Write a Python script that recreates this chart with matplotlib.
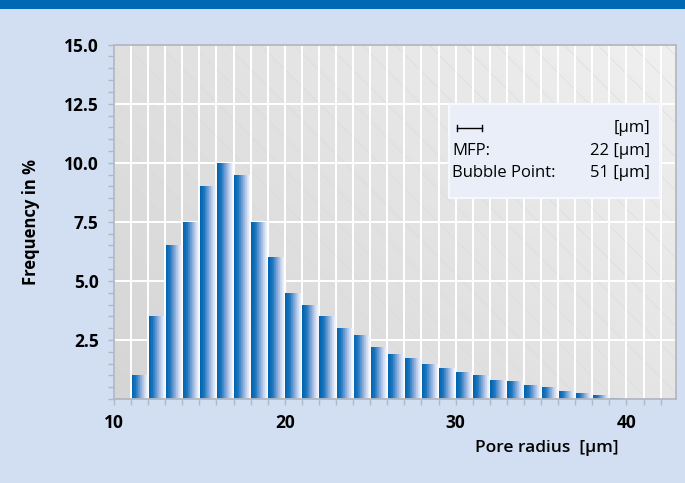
import numpy as np
import matplotlib
matplotlib.use("Agg")
import matplotlib.pyplot as plt
from matplotlib.colors import LinearSegmentedColormap
from matplotlib.patches import Rectangle
from matplotlib.lines import Line2D

plt.rcParams["font.family"] = ["Open Sans", "DejaVu Sans"]

# pore radius (left edge of each class, um) and frequency in %
radius = list(range(11, 40))
freq = [1.0, 3.5, 6.5, 7.5, 9.0, 10.0, 9.5, 7.5, 6.0, 4.5,
        4.0, 3.5, 3.0, 2.7, 2.2, 1.9, 1.75, 1.5, 1.3, 1.15,
        1.0, 0.8, 0.75, 0.6, 0.5, 0.35, 0.25, 0.15, 0.05]

x_ticks = [10, 20, 30, 40]
y_ticks = [2.5, 5.0, 7.5, 10.0, 12.5, 15.0]

legend_rows = [("", "[µm]"), ("MFP:", "22 [µm]"), ("Bubble Point:", "51 [µm]")]

fig_bg = "#D2DEF2"
band = "#0068B5"
bar_cmap = LinearSegmentedColormap.from_list(
    "bar", [(0, "#0064B0"), (0.25, "#1B75BE"), (0.55, "#7FA6D8"),
            (0.8, "#C5D3EE"), (1, "#F2F5FC")])
bg_cmap = LinearSegmentedColormap.from_list("bg", ["#D5D5D5", "#F0F0F0"])

fig = plt.figure(figsize=(6.85, 4.83), dpi=100)
fig.patch.set_facecolor(fig_bg)
fig.add_artist(Rectangle((0, 1 - 9 / 483), 1, 9 / 483, transform=fig.transFigure,
                         facecolor=band, edgecolor="none"))

ax = fig.add_axes([0.1664, 0.1739, 0.8205, 0.7336])

# background: diagonal gradient plus faint hatch lines
gx, gy = np.meshgrid(np.linspace(0, 1, 200), np.linspace(0, 1, 200))
grad = np.clip(0.6 * gx + 0.4 * gy, 0, 1)
ax.imshow(grad, extent=[0, 1, 0, 1], origin="lower", transform=ax.transAxes,
          aspect="auto", cmap=bg_cmap, zorder=0)
run = 354 / 562
for s in np.arange(-1.0, 1.05, 0.06):
    ax.plot([s, s + run], [1, 0], transform=ax.transAxes, color="#D6DAE2",
            lw=0.5, alpha=0.8, zorder=0.5, clip_on=True)

# grid
for xv in range(10, 43):
    ax.axvline(xv, color="white", lw=1.4, zorder=1)
for yv in y_ticks[:-1]:
    ax.axhline(yv, color="white", lw=1.4, zorder=1)

# gradient bars, built from thin slices: dark blue left -> white right
n_sl = 24
bar_w = 0.94
for k in range(n_sl):
    c = bar_cmap(k / (n_sl - 1))
    ax.bar([r + 0.03 + k * bar_w / n_sl for r in radius], freq,
           width=bar_w / n_sl * 1.05, align="edge", color=c,
           edgecolor="none", zorder=2)

ax.set_xlim(10, 42.9)
ax.set_ylim(0, 15)
ax.set_aspect("auto")

for sp in ax.spines.values():
    sp.set_color("#B3B8C2")
    sp.set_linewidth(1.3)

ax.set_xticks(x_ticks)
ax.set_xticks(range(10, 43), minor=True)
ax.set_yticks(y_ticks)
ax.set_yticks(np.arange(0, 15.01, 0.5), minor=True)
ax.set_yticklabels([f"{v:.1f}" for v in y_ticks])
ax.tick_params(axis="both", which="both", color="#B3B8C2", direction="out")
ax.tick_params(axis="y", which="both", length=4, width=1)
ax.tick_params(axis="x", which="both", length=4, width=1)
ax.tick_params(axis="y", which="major", labelsize=12.5, pad=7)
ax.tick_params(axis="x", which="major", labelsize=12.5, pad=7)
for lab in ax.get_xticklabels() + ax.get_yticklabels():
    lab.set_fontweight("bold")

ax.set_ylabel("Frequency in %", fontsize=12, fontweight="bold")
ax.yaxis.set_label_coords(-0.132, 0.5)
fig.text(547 / 685, 1 - 448 / 483, "Pore radius  [µm]", fontsize=12.5,
         fontweight="semibold", ha="center", va="center")

# info box
fig.add_artist(Rectangle((449 / 685, 1 - 198 / 483), 211 / 685, 94 / 483,
                         transform=fig.transFigure, facecolor="#E9EEF8",
                         edgecolor="#F6F8FC", lw=1.5, zorder=5))
ys = [128, 151, 173]
for (left, right), yp in zip(legend_rows, ys):
    yf = 1 - yp / 483
    if left:
        fig.text(452 / 685, yf, left, fontsize=12, ha="left", va="center", zorder=6)
    fig.text(650 / 685, yf, right, fontsize=12, ha="right", va="center", zorder=6)
ysym = 1 - 128 / 483
fig.add_artist(Line2D([457 / 685, 482 / 685], [ysym, ysym], color="black", lw=1, zorder=6))
for xc in (457, 482):
    fig.add_artist(Line2D([xc / 685, xc / 685], [ysym - 3 / 483, ysym + 3 / 483],
                          color="black", lw=1, zorder=6))

fig.savefig("out.png", dpi=100, facecolor=fig.get_facecolor())
